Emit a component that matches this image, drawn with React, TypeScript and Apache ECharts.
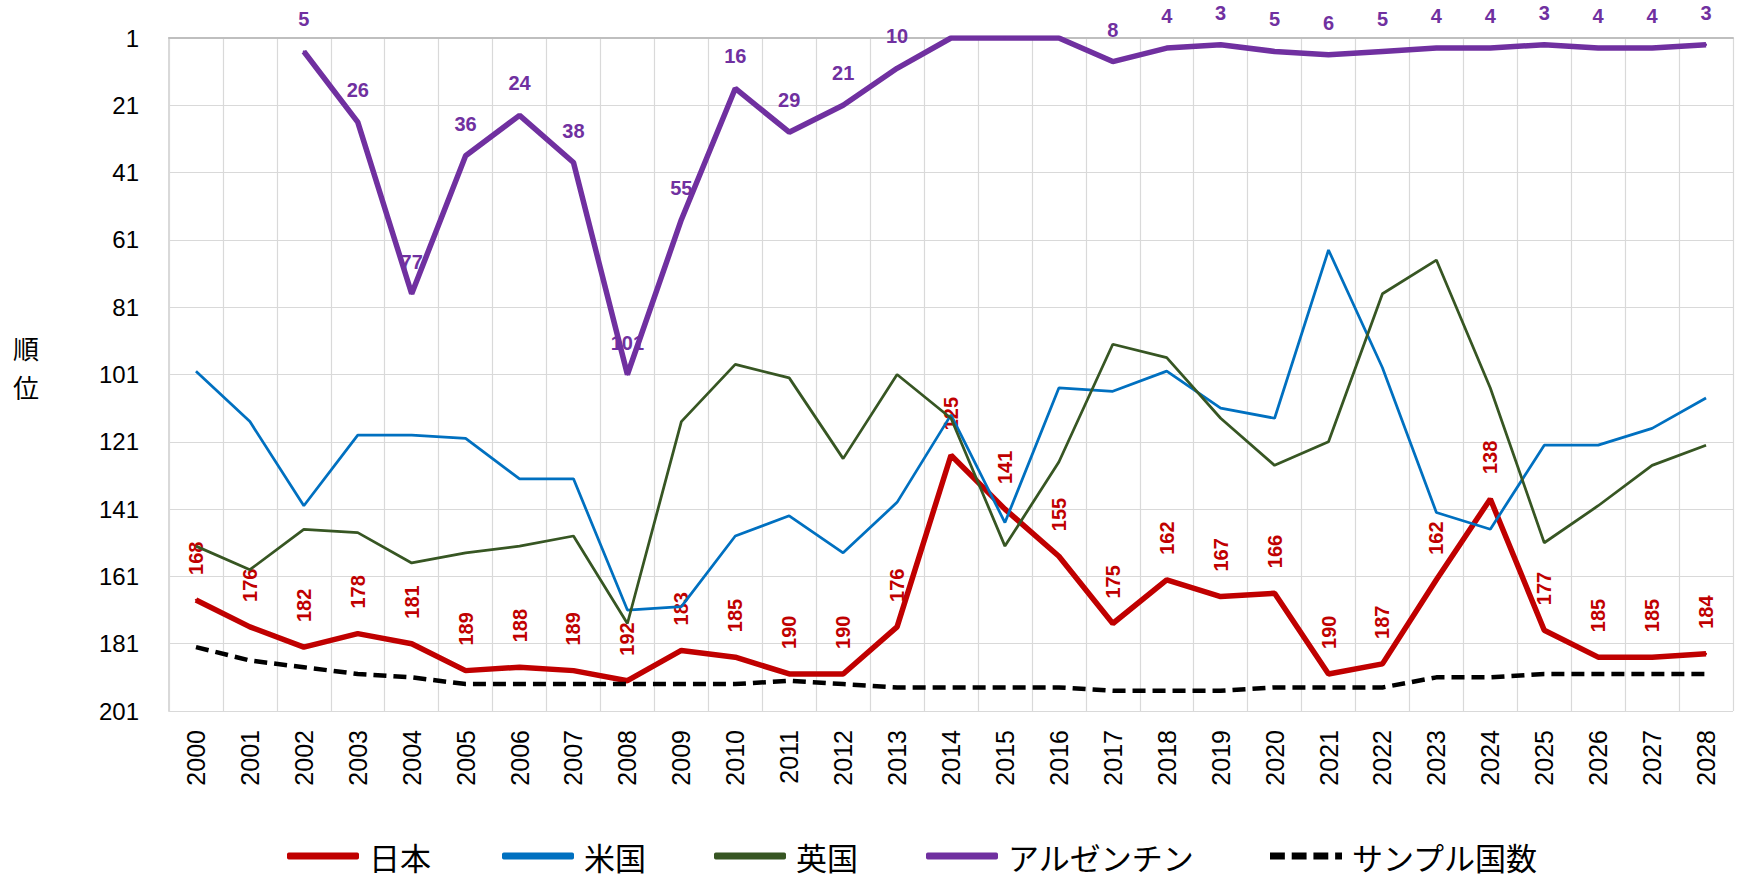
import React, { useEffect, useRef } from "react";
import * as echarts from "echarts";

const years = ["2000","2001","2002","2003","2004","2005","2006","2007","2008","2009","2010","2011","2012","2013","2014","2015","2016","2017","2018","2019","2020","2021","2022","2023","2024","2025","2026","2027","2028"];
const japan = [168,176,182,178,181,189,188,189,192,183,185,190,190,176,125,141,155,175,162,167,166,190,187,162,138,177,185,185,184];
const usa = [100,115,140,119,119,120,132,132,171,170,149,143,154,139,113,145,105,106,100,111,114,64,99,142,147,122,122,117,108];
const uk = [152,159,147,148,157,154,152,149,175,115,98,102,126,101,114,152,127,92,96,114,128,121,77,67,105,151,140,128,122];
const argentina: (number | null)[] = [null,null,5,26,77,36,24,38,101,55,16,29,21,10,1,1,1,8,4,3,5,6,5,4,4,3,4,4,3];
const samples = [182,186,188,190,191,193,193,193,193,193,193,192,193,194,194,194,194,195,195,195,194,194,194,191,191,190,190,190,190];
const argentinaHiddenLabels = ["2014","2015","2016"];
const seriesNames = ["日本","米国","英国","アルゼンチン","サンプル国数"];
const rankMin = 1;
const rankMax = 201;
const rankStep = 20;

const LATIN = "'Liberation Sans', 'Noto Sans CJK JP', sans-serif";
const CJK = "'Noto Sans CJK JP', 'Liberation Sans', sans-serif";

// ranks are drawn on a 0-based axis (rank - 1) whose labels add the 1 back
const toAxis = (arr: (number | null)[]) => arr.map((v) => (v == null ? null : v - rankMin));

const dashIcon = "path://M0,0h13v6h-13z M19,0h13v6h-13z M38,0h13v6h-13z M57,0h6v6h-6z";

export default function App() {
  const ref = useRef<HTMLDivElement>(null);
  useEffect(() => {
    if (!ref.current) return;
    const chart = echarts.init(ref.current, null, { renderer: "svg" });
    const legendLefts = [287, 502, 714, 926, 1270];
    const legendIcons = ["roundRect", "roundRect", "roundRect", "roundRect", dashIcon];
    const option: any = {
      animation: false,
      backgroundColor: "#ffffff",
      grid: { left: 169, right: 9, top: 38, bottom: 173, containLabel: false },
      graphic: [
        { type: "text", x: 13, y: 334, style: { text: "順", font: `26px ${CJK}`, fill: "#000" } },
        { type: "text", x: 13, y: 373, style: { text: "位", font: `26px ${CJK}`, fill: "#000" } },
      ],
      legend: seriesNames.map((n, i) => ({
        data: [n],
        left: legendLefts[i],
        top: 840,
        padding: 0,
        icon: legendIcons[i],
        itemWidth: 72,
        itemHeight: 7,
        textStyle: { fontSize: 31, lineHeight: 32, fontFamily: CJK, color: "#000", padding: [0, 0, 0, 5] },
      })),
      xAxis: {
        type: "category",
        data: years,
        boundaryGap: true,
        axisLine: { lineStyle: { color: "#bfbfbf", width: 2 } },
        axisTick: { show: false },
        axisLabel: { rotate: 90, fontSize: 25, fontFamily: LATIN, color: "#000", margin: 19, interval: 0 },
        splitLine: { show: true, interval: 0, lineStyle: { color: "#d9d9d9", width: 1.2 } },
      },
      yAxis: {
        type: "value",
        inverse: true,
        min: 0,
        max: rankMax - rankMin,
        interval: rankStep,
        axisLine: { show: true, lineStyle: { color: "#d9d9d9", width: 2 } },
        axisTick: { show: false },
        axisLabel: {
          fontSize: 24,
          fontFamily: LATIN,
          color: "#000",
          margin: 30,
          formatter: (v: number) => String(v + rankMin),
        },
        splitLine: { show: true, lineStyle: { color: "#d9d9d9", width: 1.2 } },
      },
      series: [
        {
          name: "日本",
          type: "line",
          data: toAxis(japan),
          symbol: "circle",
          symbolSize: 2,
          showSymbol: true,
          lineStyle: { color: "#C00000", width: 5.5 },
          itemStyle: { color: "#C00000" },
          label: {
            show: true,
            position: "top",
            rotate: 90,
            align: "left",
            verticalAlign: "middle",
            distance: 24,
            color: "#C00000",
            fontWeight: "bold",
            fontSize: 20,
            fontFamily: LATIN,
            formatter: (p: any) => String(p.value + rankMin),
          },
          z: 2,
        },
        {
          name: "米国",
          type: "line",
          data: toAxis(usa),
          symbol: "none",
          lineStyle: { color: "#0070C0", width: 2.75 },
          itemStyle: { color: "#0070C0" },
          z: 3,
        },
        {
          name: "英国",
          type: "line",
          data: toAxis(uk),
          symbol: "none",
          lineStyle: { color: "#375623", width: 2.75 },
          itemStyle: { color: "#375623" },
          z: 4,
        },
        {
          name: "アルゼンチン",
          type: "line",
          data: toAxis(argentina).map((v, i) =>
            argentinaHiddenLabels.includes(years[i]) ? { value: v, label: { show: false } } : v
          ),
          symbol: "circle",
          symbolSize: 2,
          showSymbol: true,
          lineStyle: { color: "#7030A0", width: 5.5 },
          itemStyle: { color: "#7030A0" },
          label: {
            show: true,
            position: "top",
            distance: 21,
            color: "#7030A0",
            fontWeight: "bold",
            fontSize: 20,
            fontFamily: LATIN,
            formatter: (p: any) => String(p.value + rankMin),
          },
          z: 5,
        },
        {
          name: "サンプル国数",
          type: "line",
          data: toAxis(samples),
          symbol: "none",
          lineStyle: { color: "#000000", width: 4.5, type: [13, 7] },
          itemStyle: { color: "#000000" },
          z: 6,
        },
      ],
    };
    chart.setOption(option);
    return () => chart.dispose();
  }, []);
  return (
    <div
      ref={ref}
      style={{ position: "absolute", left: 0, top: 0, width: 1742, height: 884, background: "#fff" }}
    />
  );
}
